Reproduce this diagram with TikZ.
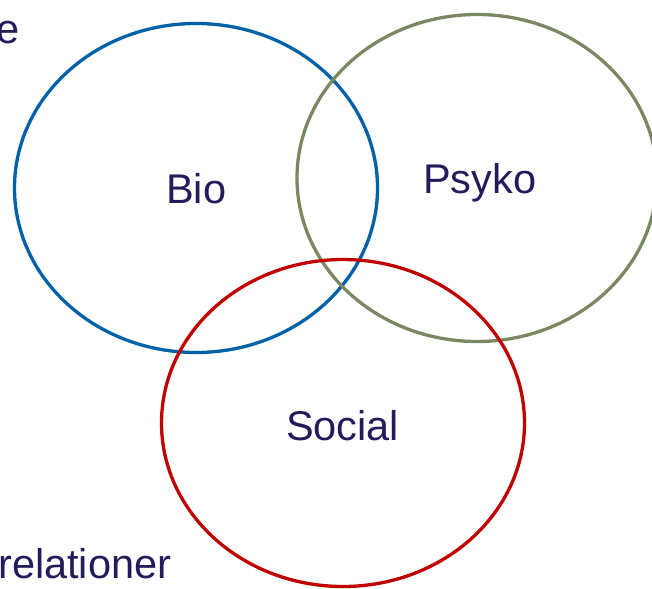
\documentclass[tikz,border=0pt]{standalone}
\usepackage{fontspec}
\setmainfont{Liberation Sans}
\usetikzlibrary{shapes.geometric}
\definecolor{biocol}{HTML}{0062A6}
\definecolor{psykocol}{HTML}{7A8862}
\definecolor{socialcol}{HTML}{C00000}
\definecolor{textcol}{HTML}{221C5C}
\tikzset{
  ring/.style={ellipse, draw, line width=3.3pt, inner sep=0pt},
  word/.style={anchor=base west, inner sep=0pt, text=textcol, font=\fontsize{41.5}{48}\selectfont}
}
\begin{document}
\begin{tikzpicture}[x=1pt,y=-1pt]
\useasboundingbox (0,0) rectangle (652,588);
\node[ring, biocol, minimum width=363pt, minimum height=329pt] (bioring) at (196,188){};
\node[ring, psykocol, minimum width=360pt, minimum height=327pt] (psykoring) at (477,178){};
\node[ring, socialcol, minimum width=363pt, minimum height=327pt] (socialring) at (343,423){};
\node[word] (bio) at (166,203){Bio};
\node[word] (psyko) at (423,193){Psyko};
\node[word] (social) at (286,440){Social};
\node[word] (e) at (-4,44){e};
\node[word] (relationer) at (-2,578){relationer};
\end{tikzpicture}
\end{document}
